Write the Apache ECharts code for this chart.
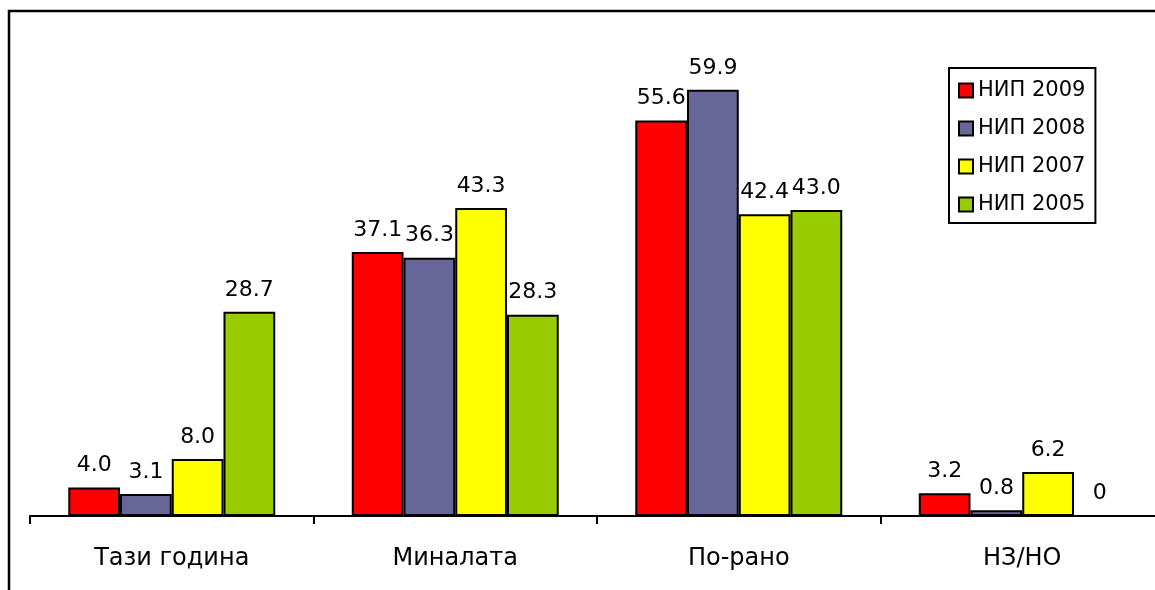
<!DOCTYPE html>
<html>
<head>
<meta charset="utf-8">
<script src="https://cdn.jsdelivr.net/npm/echarts@6/dist/echarts.min.js"></script>
<style>
  html, body { margin: 0; padding: 0; background: #fff; }
  #chart { width: 1155px; height: 590px; }
</style>
</head>
<body>
<div id="chart"></div>
<script>
var categories = ['Тази година', 'Миналата', 'По-рано', 'НЗ/НО'];
var nip2009 = [4.0, 37.1, 55.6, 3.2];
var nip2008 = [3.1, 36.3, 59.9, 0.8];
var nip2007 = [8.0, 43.3, 42.4, 6.2];
var nip2005 = [28.7, 28.3, 43.0, 0];

var font = 'DejaVu Sans';

function bar(name, data, color) {
  return {
    name: name,
    type: 'bar',
    data: data,
    barGap: 0,
    barCategoryGap: '27%',
    itemStyle: { color: color, borderColor: '#000', borderWidth: 2 },
    label: {
      show: true,
      position: 'top',
      distance: 11,
      fontFamily: font,
      fontSize: 22,
      color: '#000',
      formatter: function (p) { return p.value === 0 ? '0' : p.value.toFixed(1); }
    }
  };
}

var chart = echarts.init(document.getElementById('chart'));
chart.setOption({
  animation: false,
  backgroundColor: '#fff',
  graphic: [{
    type: 'rect',
    shape: { x: 9, y: 11, width: 1170, height: 620 },
    style: { fill: 'none', stroke: '#000', lineWidth: 2.5 },
    z: 100
  }],
  legend: {
    orient: 'vertical',
    left: 949,
    top: 68,
    icon: 'rect',
    itemWidth: 14,
    itemHeight: 14,
    itemGap: 17,
    padding: [12, 10, 8, 9],
    borderColor: '#000',
    borderWidth: 2,
    textStyle: { fontFamily: font, fontSize: 21, color: '#000' },
    data: ['НИП 2009', 'НИП 2008', 'НИП 2007', 'НИП 2005']
  },
  grid: { left: 30, top: 18, width: 1134, height: 498, outerBoundsMode: 'none', containLabel: false },
  xAxis: {
    type: 'category',
    data: categories,
    axisLine: { lineStyle: { color: '#000', width: 2 } },
    axisTick: { show: true, length: 8, lineStyle: { color: '#000', width: 2 } },
    axisLabel: { fontFamily: font, fontSize: 24, color: '#000', margin: 31 }
  },
  yAxis: {
    type: 'value',
    min: 0,
    max: 70,
    show: false,
    splitLine: { show: false }
  },
  series: [
    bar('НИП 2009', nip2009, '#ff0000'),
    bar('НИП 2008', nip2008, '#666699'),
    bar('НИП 2007', nip2007, '#ffff00'),
    bar('НИП 2005', nip2005, '#99cc00')
  ]
});
</script>
</body>
</html>
